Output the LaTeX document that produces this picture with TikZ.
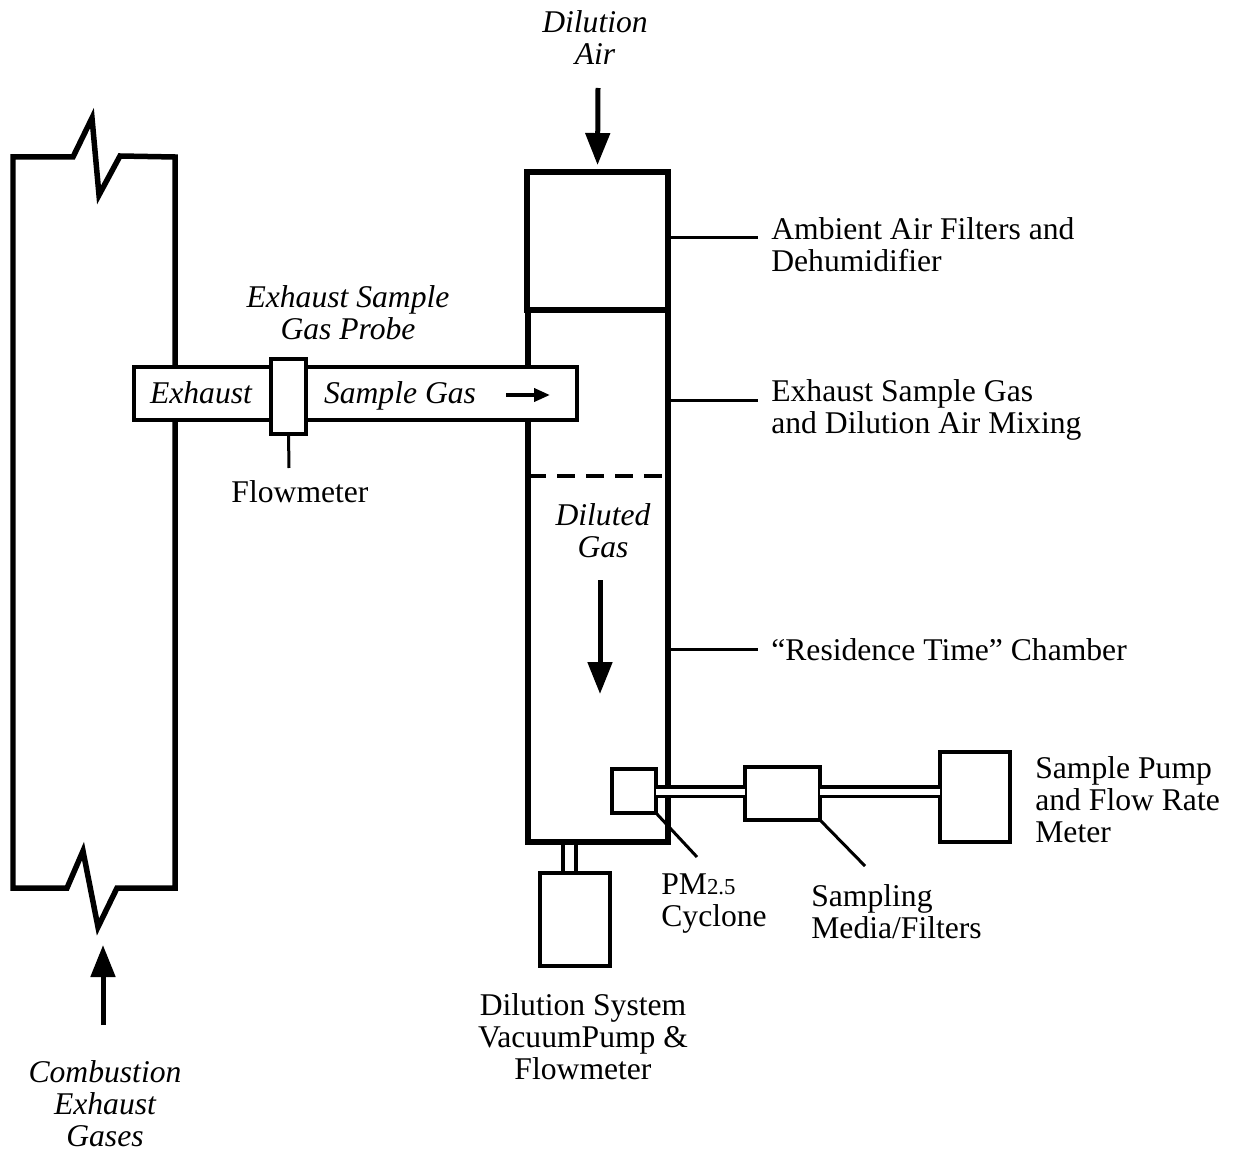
\documentclass[tikz,border=0pt]{standalone}
\usepackage{fontspec}
\setmainfont{Liberation Serif}
\usetikzlibrary{arrows.meta,positioning}

\begin{document}
\begin{tikzpicture}[x=0.02cm,y=-0.02cm,
    every node/.style={font=\fontsize{18}{18.2}\selectfont},
    wallbox/.style={draw,line width=0.11cm,minimum width=2.8cm,outer sep=0pt,inner sep=0pt},
    partbox/.style={draw,line width=0.07cm,fill=white,outer sep=0pt,inner sep=0pt},
    leader/.style={line width=0.06cm},
    pipeline/.style={line width=0.075cm,double distance=0.12cm},
    vpipeline/.style={line width=0.075cm,double distance=0.18cm},
    note/.style={align=left,anchor=west,inner sep=0pt},
    itext/.style={align=center,inner sep=0pt,font=\fontsize{18}{18.2}\selectfont\itshape},
    flowarrow/.style={line width=0.1cm,-{Triangle[length=0.64cm,width=0.48cm]}},
    smallarrow/.style={line width=0.075cm,-{Triangle[length=0.32cm,width=0.26cm]}}]
    \useasboundingbox (0,0) rectangle (1234,1152);
    % stack
    \draw[line width=0.11cm,line join=miter] (13,157) -- (13,888) -- (67,888) -- (83,851) -- (98,927)
      -- (117,888) -- (175,888) -- (175,157) -- (120,156) -- (99,195) -- (92,118) -- (73,157) -- cycle;
    \coordinate (gas_tail) at (103,1025);
    \coordinate (gas_head) at (103,945);
    \draw[flowarrow] (gas_tail) -- (gas_head);
    \node[itext] (txt_comb) at (105,1104) {Combustion\\Exhaust\\Gases};

    % dilution tunnel
    \node[wallbox,minimum height=10.64cm] (chamber) at (598,576) {};
    \node[wallbox,minimum width=2.82cm,minimum height=2.76cm] (filter) at (597.5,241) {};
    \coordinate (mix_y) at (598,476);
    \draw[line width=0.07cm,dash pattern=on 0.36cm off 0.22cm] (chamber.west |- mix_y) -- (chamber.east |- mix_y);
    \node[itext] (txt_air) at (595,38) {Dilution\\Air};
    \coordinate (air_in) at (598,88);
    \draw[flowarrow,shorten >=0.14cm] (air_in) -- (filter.north);
    \node[itext] (txt_diluted) at (603,531) {Diluted\\Gas};
    \coordinate (dil_tail) at (600,580);
    \coordinate (dil_head) at (600,694);
    \draw[flowarrow] (dil_tail) -- (dil_head);

    % probe
    \node[partbox,minimum width=8.86cm,minimum height=1.06cm] (probe) at (355.5,393.5) {};
    \node[partbox,minimum width=0.7cm,minimum height=1.5cm] (flowmeter) at (288.5,396.5) {};
    \node[itext] (txt_exhaust) at (201,393) {Exhaust};
    \node[itext] (txt_sample) at (400,396) {Sample Gas};
    \coordinate (sg_tail) at (506,395);
    \coordinate (sg_head) at (550,395);
    \draw[smallarrow] (sg_tail) -- (sg_head);
    \node[itext] (txt_probe) at (348,313) {Exhaust Sample\\Gas Probe};
    \coordinate (fm_end) at (289,468);
    \draw[leader] (flowmeter.south) -- (fm_end);
    \node (txt_flowmeter) [below=0.24cm of fm_end,xshift=0.22cm,inner sep=0pt] {Flowmeter};

    % labels on the right
    \coordinate (lbl_filter) at (758,238);
    \coordinate (lbl_mix) at (758,400);
    \coordinate (lbl_res) at (758,649);
    \path[leader] (filter.east |- lbl_filter) edge (lbl_filter)
      (chamber.east |- lbl_mix) edge (lbl_mix)
      (chamber.east |- lbl_res) edge (lbl_res);
    \node[note] (txt_filter) at (771,245) {Ambient Air Filters and\\Dehumidifier};
    \node[note] (txt_mix) at (771,410) {Exhaust Sample Gas\\and Dilution Air Mixing};
    \node[note] (txt_res) at (771,650) {“Residence Time” Chamber};

    % sampling train
    \coordinate (pipe_y) at (700,791.7);
    \coordinate (vac_x) at (569.5,850);
    \node[partbox,minimum size=0.88cm] (cyclone) at (634,791) {};
    \node[partbox,minimum width=1.5cm,minimum height=1.06cm] (media) at (782.5,793.5) {};
    \node[partbox,minimum width=1.4cm,minimum height=1.8cm] (pump) at (975,797) {};
    \node[partbox,minimum width=1.4cm,minimum height=1.86cm] (vacuum) at (575,919.5) {};
    \draw[pipeline] (cyclone.east |- pipe_y) -- (media.west |- pipe_y);
    \draw[pipeline] (media.east |- pipe_y) -- (pump.west |- pipe_y);
    \draw[vpipeline,shorten <=0.055cm,shorten >=0.035cm] (chamber.south -| vac_x) -- (vacuum.north -| vac_x);
    \coordinate (cyc_end) at (697,857);
    \coordinate (media_end) at (865,866);
    \path[leader] (cyclone.south east) edge (cyc_end)
      (media.south east) edge (media_end);
    \node[note] (txt_cyclone) at (661,904) {PM{\fontsize{13}{13}\selectfont 2.5}\\Cyclone};
    \node[note] (txt_media) at (811,912) {Sampling\\Media/Filters};
    \node[note] (txt_pump) at (1035,800) {Sample Pump\\and Flow Rate\\Meter};
    \node[align=center,inner sep=0pt] (txt_vacuum) at (583,1037) {Dilution System\\VacuumPump \&\\Flowmeter};
\end{tikzpicture}
\end{document}
